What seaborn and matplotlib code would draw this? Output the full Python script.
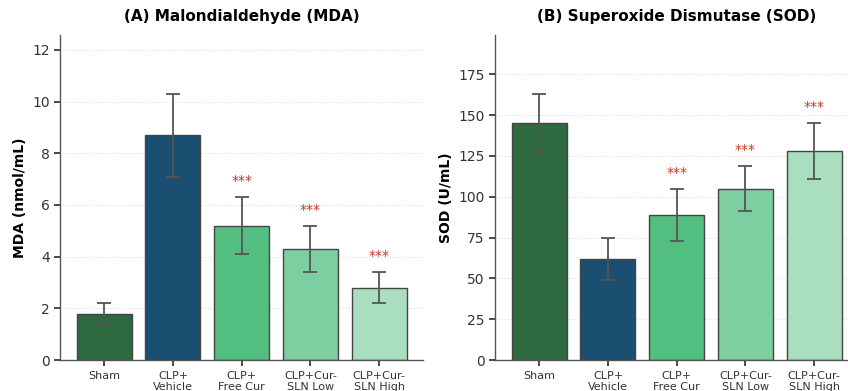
import matplotlib
matplotlib.use("Agg")
import matplotlib.pyplot as plt
import seaborn as sns
import pandas as pd

# ---- data ----
groups = ["Sham", "CLP+\nVehicle", "CLP+\nFree Cur", "CLP+Cur-\nSLN Low", "CLP+Cur-\nSLN High"]
mda_mean = [1.8, 8.7, 5.2, 4.3, 2.8]
mda_err = [0.4, 1.6, 1.1, 0.9, 0.6]
sod_mean = [145, 62, 89, 105, 128]
sod_err = [18, 13, 16, 14, 17]
signif = ["", "", "***", "***", "***"]
colors = ["#2d6a3f", "#1b4f72", "#52be80", "#7dcea0", "#a9dfbf"]

sns.set_theme(style="white")
plt.rcParams["font.family"] = ["DejaVu Sans"]

fig = plt.figure(figsize=(8.48, 3.91), dpi=100)
ax1 = fig.add_axes([0.071, 0.079, 0.428, 0.831])
ax2 = fig.add_axes([0.584, 0.079, 0.428, 0.831])

panels = [
    (ax1, mda_mean, mda_err, "(A) Malondialdehyde (MDA)", "MDA (nmol/mL)", [0, 2, 4, 6, 8, 10, 12], 0.35),
    (ax2, sod_mean, sod_err, "(B) Superoxide Dismutase (SOD)", "SOD (U/mL)", [0, 25, 50, 75, 100, 125, 150, 175], 5.5),
]

for ax, means, errs, title, ylabel, yticks, star_off in panels:
    df = pd.DataFrame({"group": groups, "value": means})
    sns.barplot(data=df, x="group", y="value", hue="group", palette=colors, legend=False,
                saturation=1, edgecolor="#444444", linewidth=1.0, width=0.8, ax=ax)
    ax.errorbar(range(len(groups)), means, yerr=errs, fmt="none", ecolor="#555555",
                elinewidth=1.3, capsize=5, capthick=1.3)
    for i, s in enumerate(signif):
        if s:
            ax.text(i, means[i] + errs[i] + star_off, s, ha="center", va="bottom",
                    color="#c0392b", fontsize=10)
    top = max(m + e for m, e in zip(means, errs)) * 1.22
    ax.set_ylim(0, top)
    ax.set_xlim(-0.64, 4.64)
    ax.set_yticks(yticks)
    ax.set_title(title, fontsize=11, fontweight="bold", pad=10, color="black")
    ax.set_ylabel(ylabel, fontsize=10, fontweight="bold", color="black")
    ax.set_xlabel("")
    ax.tick_params(axis="x", labelsize=8, colors="#333333", length=4, bottom=True)
    ax.tick_params(axis="y", labelsize=10, colors="#333333", length=4, left=True)
    ax.yaxis.grid(True, linestyle=":", color="#dddddd", linewidth=0.8)
    ax.set_axisbelow(True)
    for side in ["top", "right"]:
        ax.spines[side].set_visible(False)
    for side in ["left", "bottom"]:
        ax.spines[side].set_color("#555555")
        ax.spines[side].set_linewidth(1.0)

fig.savefig("out.png", dpi=100)
